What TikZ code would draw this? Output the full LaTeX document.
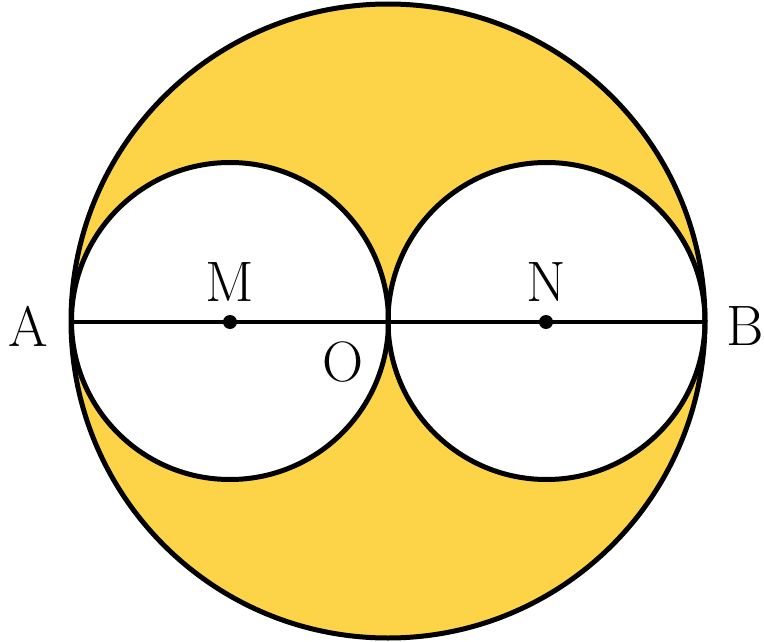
\documentclass[tikz,border=0pt]{standalone}
\begin{document}
\begin{tikzpicture}[x=1pt,y=-1pt]
\definecolor{gold}{HTML}{FDD447}
\tikzset{
  outline/.style={line width=5pt,draw=black},
  lbl/.style={font=\fontsize{57}{64}\selectfont,inner sep=0pt},
  dotpt/.style={circle,fill=black,inner sep=0pt,minimum size=14pt}
}
\useasboundingbox (0,0) rectangle (764,642);
\coordinate (O) at (388,321);
\coordinate (A) at (71,322);
\coordinate (B) at (705,322);
\fill[gold] (O) circle (317);
\fill[white] (230,321) circle (158.5);
\fill[white] (546.5,321) circle (158.5);
\draw[outline] (O) circle (317);
\draw[outline] (230,321) circle (158.5);
\draw[outline] (546.5,321) circle (158.5);
\draw[line width=4.5pt] (A) -- (B);
\node[dotpt] (M) at (230,322) {};
\node[dotpt] (N) at (546,322) {};
\node[lbl] (lA) at (28,326) {A};
\node[lbl] (lB) at (745,326) {B};
\node[lbl] (lM) at (230,282) {M};
\node[lbl] (lN) at (546,282) {N};
\node[lbl] (lO) at (343,362) {O};
\end{tikzpicture}
\end{document}
